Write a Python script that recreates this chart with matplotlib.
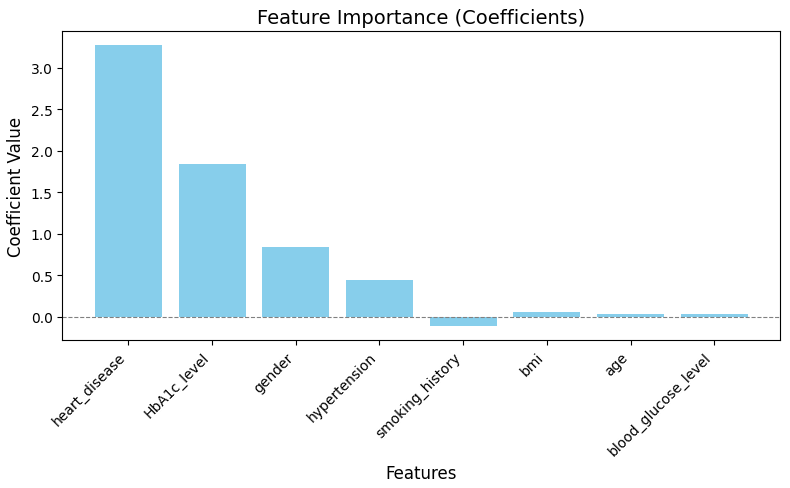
import matplotlib
matplotlib.use("Agg")
import matplotlib.pyplot as plt

# coefficient values
features = ['heart_disease', 'HbA1c_level', 'gender', 'hypertension',
            'smoking_history', 'bmi', 'age', 'blood_glucose_level']
coefficients = [3.27, 1.843, 0.845, 0.45, -0.113, 0.064, 0.04, 0.04]

plt.figure(figsize=(7.9, 4.89), dpi=100)
plt.bar(features, coefficients, color='skyblue')
plt.axhline(0, color='gray', linestyle='--', linewidth=0.8)
plt.title('Feature Importance (Coefficients)', fontsize=14)
plt.xlabel('Features', fontsize=12)
plt.ylabel('Coefficient Value', fontsize=12)
plt.xticks(rotation=45, ha='right')
plt.subplots_adjust(left=0.0789, right=0.9877, top=0.934, bottom=0.302)
plt.savefig('out.png', dpi=100)
